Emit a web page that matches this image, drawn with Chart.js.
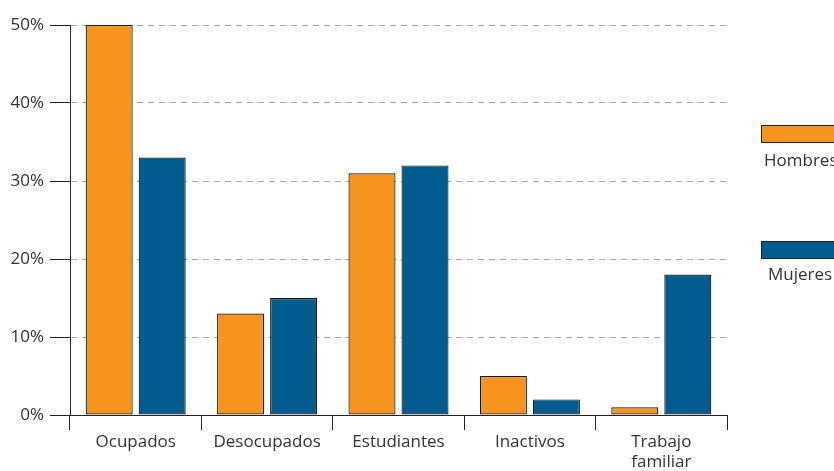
<!DOCTYPE html>
<html>
<head>
<meta charset="utf-8">
<script src="https://cdn.jsdelivr.net/npm/chart.js@4/dist/chart.umd.min.js"></script>
<style>
  html, body { margin: 0; padding: 0; background: #fff; }
  #wrap { position: relative; width: 834px; height: 471px; overflow: hidden; }
  .key { position: absolute; left: 761px; width: 90px; height: 18px; border: 1px solid #222; box-sizing: border-box; }
  .keyLabel { position: absolute; font: 17px "Open Sans", sans-serif; color: #333; }
</style>
</head>
<body>
<div id="wrap">
  <canvas id="chart" width="834" height="471"></canvas>
  <div class="key" style="top:125px; background:#F7941E"></div>
  <div class="keyLabel" style="left:764px; top:148px">Hombres</div>
  <div class="key" style="top:241px; background:#005B8E"></div>
  <div class="keyLabel" style="left:768px; top:262px">Mujeres</div>
</div>
<script>
// categorías y porcentajes por sexo
const categorias = ['Ocupados', 'Desocupados', 'Estudiantes', 'Inactivos', ['Trabajo', 'familiar']];
const hombres = [50, 13, 31, 5, 1];
const mujeres = [33, 15, 32, 2, 18];
const ticksY = [0, 10, 20, 30, 40, 50];

const fuente = { family: '"Open Sans", sans-serif', size: 17, lineHeight: 1.2 };

const ctx = document.getElementById('chart').getContext('2d');
new Chart(ctx, {
    type: 'bar',
    data: {
        labels: categorias,
        datasets: [
            { label: 'Hombres', data: hombres, backgroundColor: '#F7941E', borderColor: '#1a1a1a', borderWidth: 1.2, borderSkipped: false },
            { label: 'Mujeres', data: mujeres, backgroundColor: '#005B8E', borderColor: '#1a1a1a', borderWidth: 1.2, borderSkipped: false }
        ]
    },
    options: {
        responsive: false,
        animation: false,
        categoryPercentage: 0.807,
        barPercentage: 0.887,
        layout: { padding: { top: 25, right: 107, left: 0, bottom: 0 } },
        plugins: { legend: { display: false }, tooltip: { enabled: false } },
        scales: {
            x: {
                grid: { drawOnChartArea: false, tickLength: 15, tickColor: '#222', offset: true },
                border: { color: '#222', width: 1 },
                ticks: { color: '#333', font: fuente, padding: 2, maxRotation: 0 },
                afterFit: (s) => { s.height = 56; }
            },
            y: {
                min: 0,
                max: 50,
                afterBuildTicks: (s) => { s.ticks = ticksY.map(v => ({ value: v })); },
                grid: { color: '#aaa', lineWidth: 1, tickLength: 20, tickColor: '#222', tickWidth: 1 },
                border: { color: '#222', width: 1, dash: [6, 5] },
                ticks: { color: '#333', font: fuente, padding: 6, callback: v => v + '%' },
                afterFit: (s) => { s.width = 70; }
            }
        }
    }
});
</script>
</body>
</html>
